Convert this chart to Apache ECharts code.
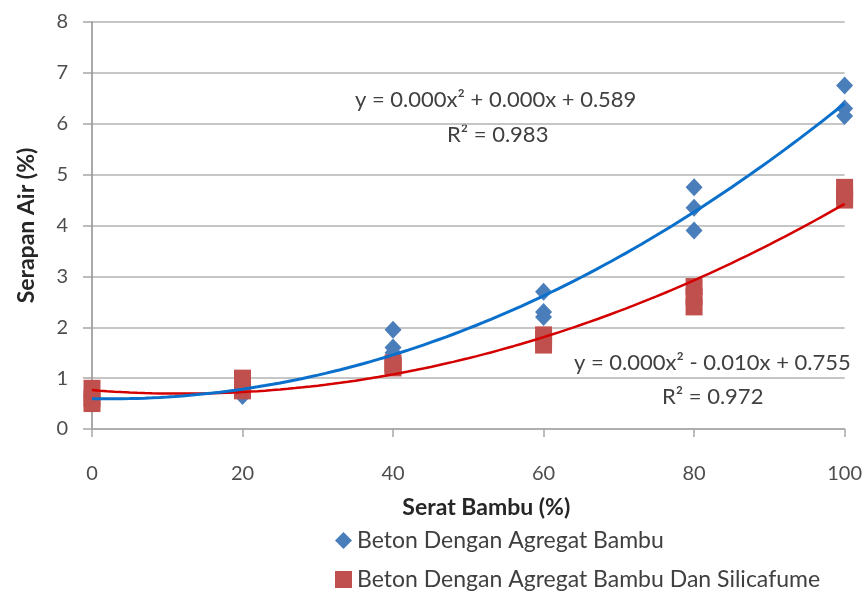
<!DOCTYPE html>
<html>
<head>
<meta charset="utf-8">
<script src="https://cdn.jsdelivr.net/npm/echarts@6/dist/echarts.min.js"></script>
<style>html,body{margin:0;padding:0;background:#fff;}#c{width:865px;height:593px;}</style>
</head>
<body>
<div id="c"></div>
<script>
// ---- data ----
const seriesNames = ['Beton Dengan Agregat Bambu', 'Beton Dengan Agregat Bambu Dan Silicafume'];
const xValues = [0, 0, 0, 20, 20, 20, 40, 40, 40, 60, 60, 60, 80, 80, 80, 100, 100, 100];
const bambuValues = [0.5, 0.6, 0.7, 0.65, 0.7, 0.75, 1.95, 1.6, 1.5, 2.7, 2.3, 2.2, 4.75, 4.35, 3.9, 6.75, 6.3, 6.15];
const silicaValues = [0.5, 0.6, 0.8, 0.75, 0.85, 1.0, 1.2, 1.25, 1.3, 1.65, 1.75, 1.85, 2.4, 2.6, 2.8, 4.5, 4.6, 4.75];
const xTicks = [0, 20, 40, 60, 80, 100];
const yTicks = [0, 1, 2, 3, 4, 5, 6, 7, 8];
const eqBambu = ['y = 0.000x² + 0.000x + 0.589', 'R² = 0.983'];
const eqSilica = ['y = 0.000x² - 0.010x + 0.755', 'R² = 0.972'];

// quadratic least-squares trendline (as the spreadsheet trendline does)
function quadFit(xs, ys) {
  let S = [0,0,0,0,0], T = [0,0,0];
  for (let i = 0; i < xs.length; i++) {
    const x = xs[i], y = ys[i];
    let p = 1;
    for (let k = 0; k < 5; k++) { S[k] += p; p *= x; }
    T[0] += y; T[1] += y * x; T[2] += y * x * x;
  }
  const A = [[S[0],S[1],S[2],T[0]],[S[1],S[2],S[3],T[1]],[S[2],S[3],S[4],T[2]]];
  for (let i = 0; i < 3; i++) {
    for (let j = i + 1; j < 3; j++) {
      const f = A[j][i] / A[i][i];
      for (let k = i; k < 4; k++) A[j][k] -= f * A[i][k];
    }
  }
  const c = [0,0,0];
  for (let i = 2; i >= 0; i--) {
    let s = A[i][3];
    for (let k = i + 1; k < 3; k++) s -= A[i][k] * c[k];
    c[i] = s / A[i][i];
  }
  return c;
}
function trend(xs, ys) {
  const c = quadFit(xs, ys);
  const out = [];
  for (let x = xTicks[0]; x <= xTicks[xTicks.length - 1]; x += 1) out.push([x, c[0] + c[1] * x + c[2] * x * x]);
  return out;
}
const pts = (ys) => xValues.map((x, i) => [x, ys[i]]);

const FONT = 'Lato';
const legendText = {fontFamily: FONT, fontSize: 23, color: '#404040'};
const chart = echarts.init(document.getElementById('c'), null, {renderer: 'canvas'});
chart.setOption({
  backgroundColor: '#ffffff',
  animation: false,
  textStyle: {fontFamily: FONT},
  grid: {left: 92, right: 19, top: 22, bottom: 164},
  xAxis: {
    type: 'value', min: xTicks[0], max: xTicks[xTicks.length - 1], interval: 20,
    name: 'Serat Bambu (%)', nameLocation: 'middle', nameGap: 67,
    nameTextStyle: {fontFamily: FONT, fontSize: 23, fontWeight: 'bold', color: '#262626', padding: [0, 0, 0, 36]},
    axisLine: {show: true, lineStyle: {color: '#a6a6a6', width: 1.5}},
    axisTick: {show: true, length: 8, lineStyle: {color: '#a6a6a6', width: 1.5}},
    axisLabel: {margin: 35, fontSize: 20, color: '#4d4d4d', fontFamily: FONT},
    splitLine: {show: false}
  },
  yAxis: {
    type: 'value', min: yTicks[0], max: yTicks[yTicks.length - 1], interval: 1,
    name: 'Serapan Air (%)', nameLocation: 'middle', nameGap: 54,
    nameTextStyle: {fontFamily: FONT, fontSize: 23, fontWeight: 'bold', color: '#262626'},
    axisLine: {show: true, lineStyle: {color: '#8c8c8c', width: 1.5}},
    axisTick: {show: true, length: 9, lineStyle: {color: '#a6a6a6', width: 1.5}},
    axisLabel: {margin: 24, fontSize: 20, color: '#4d4d4d', fontFamily: FONT},
    splitLine: {show: true, lineStyle: {color: '#b3b3b3', width: 1.5}}
  },
  legend: [
    {
      left: 335, top: 529, itemWidth: 17, itemHeight: 17, padding: 0,
      textStyle: legendText,
      data: [{name: seriesNames[0], icon: 'diamond'}]
    },
    {
      left: 335, top: 568, itemWidth: 17, itemHeight: 17, padding: 0,
      textStyle: legendText,
      data: [{name: seriesNames[1], icon: 'rect'}]
    }
  ],
  series: [
    {
      name: seriesNames[1] + ' trend', type: 'line', data: trend(xValues, silicaValues),
      showSymbol: false, symbol: 'none', smooth: false, z: 3,
      lineStyle: {color: '#d40000', width: 2.5}
    },
    {
      name: seriesNames[1], type: 'scatter', data: pts(silicaValues),
      symbol: 'rect', symbolSize: 17, z: 2,
      itemStyle: {color: '#c0504d', opacity: 1}
    },
    {
      name: seriesNames[0], type: 'scatter', data: pts(bambuValues),
      symbol: 'diamond', symbolSize: [17, 18], z: 1,
      itemStyle: {color: '#4a7ebb', opacity: 1}
    },
    {
      name: seriesNames[0] + ' trend', type: 'line', data: trend(xValues, bambuValues),
      showSymbol: false, symbol: 'none', smooth: false, z: 4,
      lineStyle: {color: '#0a70cc', width: 3}
    }
  ],
  graphic: [
    {type: 'text', left: 355, top: 89, style: {text: eqBambu[0], font: '22px ' + FONT, fill: '#404040'}},
    {type: 'text', left: 447, top: 124, style: {text: eqBambu[1], font: '22px ' + FONT, fill: '#404040'}},
    {type: 'text', left: 574, top: 352, style: {text: eqSilica[0], font: '22px ' + FONT, fill: '#404040'}},
    {type: 'text', left: 662, top: 386, style: {text: eqSilica[1], font: '22px ' + FONT, fill: '#404040'}}
  ]
});
</script>
</body>
</html>
